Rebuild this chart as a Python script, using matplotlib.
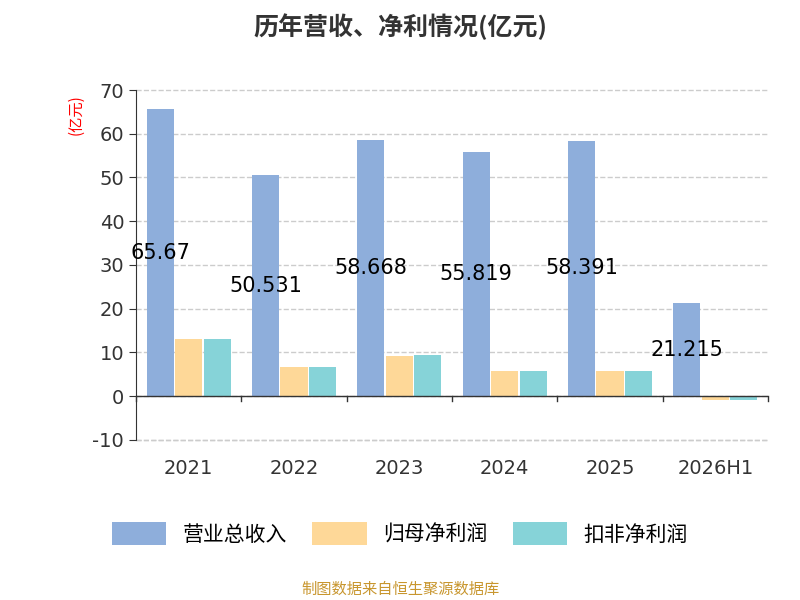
import numpy as np
import matplotlib.pyplot as plt

plt.rcParams['font.family'] = ['Noto Sans CJK SC', 'DejaVu Sans']
plt.rcParams['axes.unicode_minus'] = False

years = ['2021', '2022', '2023', '2024', '2025', '2026H1']
revenue = [65.67, 50.531, 58.668, 55.819, 58.391, 21.215]
net_profit = [13.0, 6.7, 9.2, 5.7, 5.7, -1.0]
deducted_profit = [13.0, 6.7, 9.3, 5.7, 5.7, -0.8]
rev_labels = ['65.67', '50.531', '58.668', '55.819', '58.391', '21.215']

fig = plt.figure(figsize=(8, 6), dpi=100)
ax = fig.add_axes([0.17, 0.267, 0.79, 0.583])

x = np.arange(len(years))
w = 0.27
ax.bar(x - w, revenue, w * 0.95, color='#8eaedb', label='营业总收入')
ax.bar(x, net_profit, w * 0.95, color='#fed898', label='归母净利润')
ax.bar(x + w, deducted_profit, w * 0.95, color='#86d3d8', label='扣非净利润')

for i, v in enumerate(revenue):
    ax.text(x[i] - w, v / 2, rev_labels[i], ha='center', va='center', fontsize=15,
            color='black', family='DejaVu Sans')

ax.set_ylim(-10, 70)
ax.set_xlim(-0.5, len(years) - 0.5)
ax.set_yticks(range(-10, 71, 10))
ax.tick_params(axis='y', length=5, labelsize=14, colors='#333333', direction='out')
for lab in ax.get_yticklabels():
    lab.set_family('DejaVu Sans')
ax.yaxis.grid(True, linestyle='--', color='#cccccc', linewidth=1, clip_on=False)
ax.set_axisbelow(True)
for s in ['top', 'right', 'bottom']:
    ax.spines[s].set_visible(False)
ax.spines['left'].set_color('#333333')
ax.axhline(0, color='#333333', linewidth=1)
ax.axhline(-10, color='#cccccc', linewidth=1, linestyle='--', clip_on=False)
ax.set_xticks(x)
ax.set_xticklabels(years, fontsize=14, color='#333333', family='DejaVu Sans')
ax.tick_params(axis='x', length=0, pad=14)
for b in np.arange(-0.5, len(years), 1):
    ax.plot([b, b], [0, -1.2], color='#333333', linewidth=1, clip_on=False)

ax.text(-0.095, 0.93, '(亿元)', transform=ax.transAxes, rotation=90, color='red',
        fontsize=11, ha='center', va='center')

fig.text(0.5, 0.955, '历年营收、净利情况(亿元)', ha='center', va='center',
         fontsize=18, fontweight='bold', color='#333333')
fig.legend(loc='center', bbox_to_anchor=(0.5, 0.11), ncol=3, frameon=False,
           fontsize=15, handlelength=2.6, handleheight=1.3, columnspacing=1.2)
fig.text(0.5, 0.018, '制图数据来自恒生聚源数据库', ha='center', va='center',
         fontsize=11, color='#c8962e')

fig.savefig('out.png')
